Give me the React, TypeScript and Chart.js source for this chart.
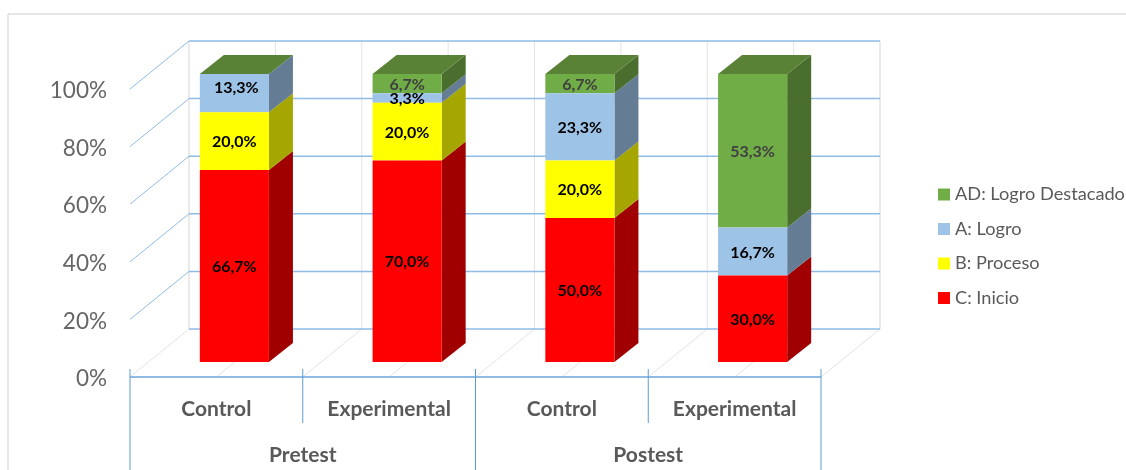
import React, { useEffect, useRef } from "react";
import { Chart, registerables, Plugin } from "chart.js";

Chart.register(...registerables);

const groups = ["Pretest", "Postest"];
const categories = ["Control", "Experimental", "Control", "Experimental"];
const inicio = [66.7, 70.0, 50.0, 30.0];
const proceso = [20.0, 20.0, 20.0, 0];
const logro = [13.3, 3.3, 23.3, 16.7];
const destacado = [0, 6.7, 6.7, 53.3];
const yTicks = { min: 0, max: 100, step: 20 };

const FONT = "Lato, 'Open Sans', sans-serif";
const TEXT = "#595959";
const GRID_BLUE = "#8FBBE4";
const TICK_BLUE = "#5B9BD5";
const WALL_GRAY = "#E3E3E3";

// Oblique projection of the 3D box: wall depth, bar plane and bar thickness.
const WALL = { dx: 59, dy: 48 };
const BAR_PLANE = { dx: 18, dy: 15 };
const BAR_DEPTH = { dx: 24, dy: 19 };

const line = (
  ctx: CanvasRenderingContext2D,
  x1: number,
  y1: number,
  x2: number,
  y2: number,
  color: string,
  width = 1
) => {
  ctx.strokeStyle = color;
  ctx.lineWidth = width;
  ctx.beginPath();
  ctx.moveTo(x1, y1);
  ctx.lineTo(x2, y2);
  ctx.stroke();
};

const poly = (ctx: CanvasRenderingContext2D, pts: number[][], color: string) => {
  ctx.fillStyle = color;
  ctx.beginPath();
  pts.forEach(([x, y], i) => (i ? ctx.lineTo(x, y) : ctx.moveTo(x, y)));
  ctx.closePath();
  ctx.fill();
};

// Walls, floor, grid and the two-level axis rules behind the bars.
const boxPlugin: Plugin<"bar"> = {
  id: "box",
  beforeDraw(chart) {
    const { ctx, width, height } = chart;
    ctx.save();
    line(ctx, 8, 14, width, 14, "#DEDEDE", 1.5);
    line(ctx, 8, 14, 8, height, "#DEDEDE", 1.5);
    ctx.restore();
  },
  beforeDatasetsDraw(chart) {
    const { ctx } = chart;
    const x = chart.scales.x;
    const y = chart.scales.y;
    const bottom = y.getPixelForValue(0);
    const top = y.getPixelForValue(100);
    const half = (x.right - x.left) / 8;
    ctx.save();
    for (let k = 0; k <= 8; k++) {
      const px = x.left + k * half;
      line(ctx, px, bottom, px + WALL.dx, bottom - WALL.dy, WALL_GRAY, 1);
      line(ctx, px + WALL.dx, top - WALL.dy, px + WALL.dx, bottom - WALL.dy, WALL_GRAY, k === 8 || k === 0 ? 1.5 : 1);
    }
    y.ticks.forEach((t) => {
      const py = y.getPixelForValue(t.value);
      if (t.value > 0) line(ctx, x.left, py, x.left + WALL.dx, py - WALL.dy, GRID_BLUE, 1);
      line(ctx, x.left + WALL.dx, py - WALL.dy, x.right + WALL.dx, py - WALL.dy, GRID_BLUE, 1.5);
    });
    line(ctx, x.left, bottom, x.right, bottom, GRID_BLUE, 2);
    for (let k = 0; k <= 4; k++) {
      const px = x.left + k * half * 2;
      line(ctx, px, bottom - 8, px, k % 2 ? bottom + 46 : chart.height, TICK_BLUE, 1);
    }
    ctx.restore();

    // Bars sit on a plane between the front edge and the back wall.
    ctx.save();
    ctx.translate(BAR_PLANE.dx, -BAR_PLANE.dy);
    const last = chart.data.datasets.length - 1;
    chart.data.datasets.forEach((ds, di) => {
      const side = (ds as any).sideColor as string;
      chart.getDatasetMeta(di).data.forEach((el) => {
        const p = (el as any).getProps(["x", "y", "base", "width"], true);
        const r = p.x + p.width / 2;
        const l = p.x - p.width / 2;
        const { dx, dy } = BAR_DEPTH;
        if (p.base - p.y > 0.01) {
          poly(ctx, [[r, p.y], [r + dx, p.y - dy], [r + dx, p.base - dy], [r, p.base]], side);
        }
        if (di === last) {
          poly(ctx, [[l, p.y], [l + dx, p.y - dy], [r + dx, p.y - dy], [r, p.y]], (ds as any).capColor);
        }
      });
    });
    ctx.restore();
    ctx.save();
    ctx.translate(BAR_PLANE.dx, -BAR_PLANE.dy);
  },
  afterDatasetsDraw(chart) {
    const { ctx } = chart;
    ctx.restore();

    // Value labels on the bar faces.
    ctx.save();
    ctx.translate(BAR_PLANE.dx, -BAR_PLANE.dy);
    ctx.font = `700 16px ${FONT}`;
    ctx.textAlign = "center";
    ctx.textBaseline = "middle";
    chart.data.datasets.forEach((ds, di) => {
      ctx.fillStyle = (ds as any).labelColor;
      chart.getDatasetMeta(di).data.forEach((el, i) => {
        const v = ds.data[i] as number;
        if (!v) return;
        const p = (el as any).getProps(["x", "y", "base"], true);
        // The 13,3% label rides a little high and to the right on its segment.
        const nudged = di === 2 && i === 0;
        ctx.fillText(
          `${v.toFixed(1).replace(".", ",")}%`,
          p.x + (nudged ? 2 : 0),
          (p.y + p.base) / 2 + (nudged ? -5 : 1)
        );
      });
    });
    ctx.restore();

    // Legend, top of the stack first.
    ctx.save();
    ctx.font = `400 18.2px ${FONT}`;
    ctx.textBaseline = "middle";
    ctx.textAlign = "left";
    const rows = [...chart.data.datasets].reverse();
    rows.forEach((ds, i) => {
      const cy = 194.5 + i * 34.5;
      ctx.fillStyle = ds.backgroundColor as string;
      ctx.fillRect(938, cy - 6, 12, 12);
      ctx.fillStyle = TEXT;
      ctx.fillText(ds.label as string, 955, cy);
    });
    ctx.restore();
  },
};

export default function App() {
  const ref = useRef<HTMLCanvasElement>(null);

  useEffect(() => {
    if (!ref.current) return;
    const chart = new Chart(ref.current, {
      type: "bar",
      data: {
        labels: categories,
        datasets: [
          { label: "C: Inicio", data: inicio, backgroundColor: "#FF0000", sideColor: "#A00000", labelColor: "#000000", clip: false },
          { label: "B: Proceso", data: proceso, backgroundColor: "#FFFF00", sideColor: "#A6A600", labelColor: "#000000", clip: false },
          { label: "A: Logro", data: logro, backgroundColor: "#9DC3E6", sideColor: "#647C94", labelColor: "#000000", clip: false },
          { label: "AD: Logro Destacado", data: destacado, backgroundColor: "#70AD47", sideColor: "#4A6E2E", capColor: "#5A8236", labelColor: "#404040", clip: false },
        ] as any,
      },
      options: {
        responsive: false,
        animation: false,
        layout: { padding: { top: 89, right: 305, left: 0, bottom: 0 } },
        datasets: { bar: { barPercentage: 0.4, categoryPercentage: 1 } },
        plugins: { legend: { display: false }, tooltip: { enabled: false } },
        scales: {
          x: {
            stacked: true,
            weight: 0,
            grid: { display: false, drawTicks: false },
            border: { display: false },
            ticks: { padding: 20, maxRotation: 0, autoSkip: false, color: TEXT, font: { family: FONT, size: 21, weight: "bold" } },
            afterFit: (s: any) => { s.height = 47; },
          },
          x2: {
            type: "category",
            position: "bottom",
            weight: 1,
            labels: groups,
            grid: { display: false, drawTicks: false },
            border: { display: false },
            ticks: { padding: 19, maxRotation: 0, color: TEXT, font: { family: FONT, size: 21, weight: "bold" } },
            afterFit: (s: any) => { s.height = 46; },
          },
          y: {
            stacked: true,
            min: yTicks.min,
            max: yTicks.max,
            grid: { display: false, drawTicks: false },
            border: { display: false },
            ticks: {
              stepSize: yTicks.step,
              padding: 23,
              labelOffset: 2,
              color: "#666666",
              font: { family: FONT, size: 22.5 },
              callback: (v: any) => `${v}%`,
            },
            afterFit: (s: any) => { s.width = 130; },
          },
        },
      } as any,
      plugins: [boxPlugin],
    });
    return () => chart.destroy();
  }, []);

  return (
    <div style={{ position: "absolute", left: 0, top: 0, width: 1126, height: 470 }}>
      <canvas ref={ref} width={1126} height={470} style={{ display: "block" }} />
    </div>
  );
}
